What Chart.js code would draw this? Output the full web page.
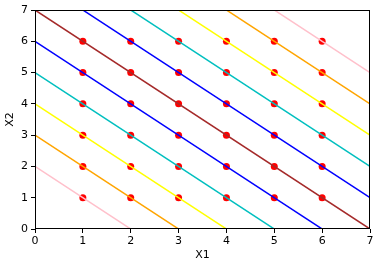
<!DOCTYPE html>
<html>
<head>
<meta charset="utf-8">
<script src="https://cdn.jsdelivr.net/npm/chart.js@4"></script>
<style>
  html, body { margin: 0; padding: 0; background: #fff; }
  #wrap { width: 380px; height: 266px; }
</style>
</head>
<body>
<div id="wrap"><canvas id="myChart" width="380" height="266"></canvas></div>
<script>
// grid of points
const x1Values = [1, 2, 3, 4, 5, 6];
const x2Values = [1, 2, 3, 4, 5, 6];

// level lines x1 + x2 = c
const lineSums = [2, 3, 4, 5, 6, 7, 8, 9, 10, 11, 12];
const lineColors = ['pink', 'orange', 'yellow', '#00bfbf', 'blue', 'brown',
  'blue', '#00bfbf', 'yellow', 'orange', 'pink'];

const axisMin = 0;
const axisMax = 7;

function DisplayChart() {
  const datasets = [];

  lineSums.forEach((c, i) => {
    datasets.push({
      type: 'line',
      data: [{ x: axisMin, y: c - axisMin }, { x: axisMax, y: c - axisMax }],
      borderColor: lineColors[i],
      borderWidth: 1.5,
      pointRadius: 0,
      fill: false,
      tension: 0,
      clip: 0,
      order: 0
    });
  });

  const pts = [];
  x1Values.forEach(a => {
    x2Values.forEach(b => pts.push({ x: a, y: b }));
  });
  datasets.push({
    type: 'scatter',
    data: pts,
    backgroundColor: 'red',
    borderColor: 'red',
    borderWidth: 0,
    pointRadius: 3.5,
    order: 1
  });

  // matplotlib-like box round the plot
  const boxPlugin = {
    id: 'box',
    afterDatasetsDraw(chart) {
      const a = chart.chartArea;
      const ctx = chart.ctx;
      ctx.save();
      ctx.strokeStyle = '#000';
      ctx.lineWidth = 1;
      ctx.strokeRect(Math.round(a.left) + 0.5, Math.round(a.top) + 0.5,
        Math.round(a.right - a.left) - 1, Math.round(a.bottom - a.top) - 1);
      ctx.restore();
    }
  };

  const font = { family: 'DejaVu Sans', size: 11 };

  new Chart(document.getElementById('myChart'), {
    type: 'scatter',
    data: { datasets: datasets },
    options: {
      responsive: false,
      animation: false,
      layout: { padding: { top: 10, right: 10, left: 0, bottom: 0 } },
      plugins: { legend: { display: false }, tooltip: { enabled: false } },
      scales: {
        x: {
          type: 'linear',
          min: axisMin,
          max: axisMax,
          afterFit: s => { s.height = 37; },
          border: { display: false },
          grid: { drawOnChartArea: false, drawTicks: true, tickLength: 4, color: '#000' },
          ticks: { stepSize: 1, color: '#000', font: font, padding: 2, maxRotation: 0 },
          title: { display: true, text: 'X1', color: '#000', font: font }
        },
        y: {
          type: 'linear',
          min: axisMin,
          max: axisMax,
          afterFit: s => { s.width = 35; },
          border: { display: false },
          grid: { drawOnChartArea: false, drawTicks: true, tickLength: 4, color: '#000' },
          ticks: { stepSize: 1, color: '#000', font: font, padding: 3 },
          title: { display: true, text: 'X2', color: '#000', font: font }
        }
      }
    },
    plugins: [boxPlugin]
  });
}

DisplayChart();
</script>
</body>
</html>
